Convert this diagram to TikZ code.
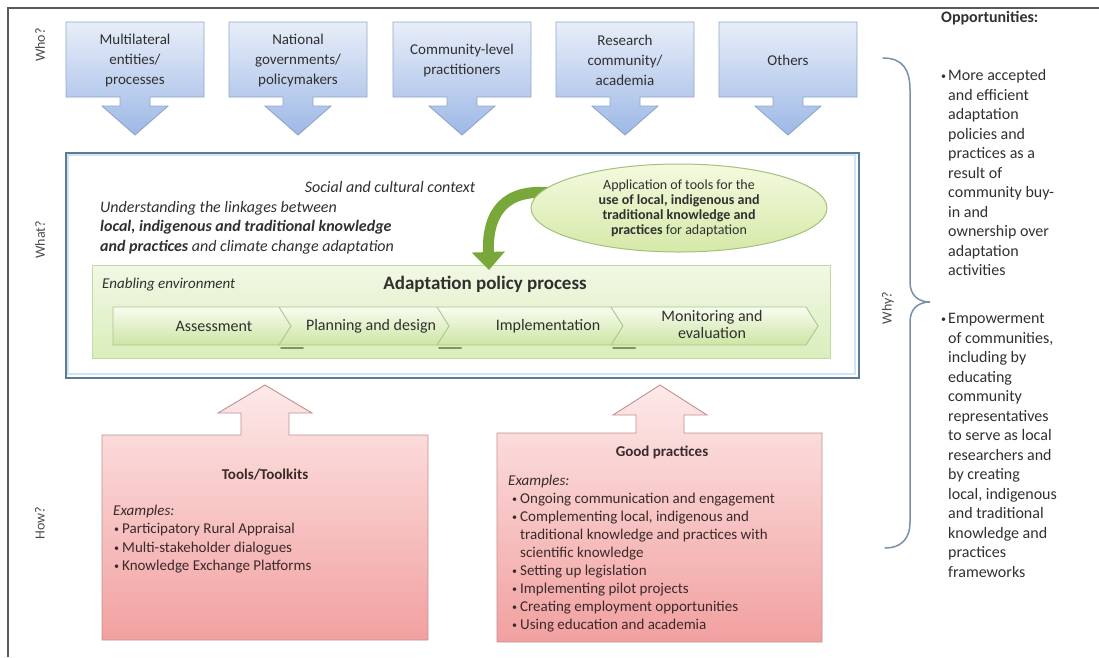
\documentclass[tikz,border=0pt]{standalone}
\usepackage{fontspec}
\setmainfont{Carlito}
\usetikzlibrary{arrows.meta,shapes.geometric}

\definecolor{framegrey}{HTML}{5A5A5A}
\definecolor{lbltxt}{HTML}{4A4A4A}
\definecolor{txt}{HTML}{303030}
\definecolor{whoedge}{HTML}{8FA6C8}
\definecolor{whotop}{HTML}{E8EEF9}
\definecolor{whobot}{HTML}{9DB8E6}
\definecolor{mainedge}{HTML}{5B7B96}
\definecolor{mainglow}{HTML}{D3E3F0}
\definecolor{paneltop}{HTML}{F1F8E4}
\definecolor{panelbot}{HTML}{DAEEBC}
\definecolor{paneledge}{HTML}{C3DBA3}
\definecolor{striptop}{HTML}{F8FCF0}
\definecolor{stripbot}{HTML}{CDE5A4}
\definecolor{stripedge}{HTML}{A9C78B}
\definecolor{stripshadow}{HTML}{7D9660}
\definecolor{elltop}{HTML}{F4FADF}
\definecolor{ellbot}{HTML}{D5E9A8}
\definecolor{elledge}{HTML}{A3C07C}
\definecolor{arrowgreen}{HTML}{78A83A}
\definecolor{redtop}{HTML}{FDE9E9}
\definecolor{redbot}{HTML}{F2A0A0}
\definecolor{rededge}{HTML}{C28F8F}
\definecolor{redtxt}{HTML}{3A2A2A}
\definecolor{bracecol}{HTML}{7890A8}

\newcommand\szf[2]{\fontsize{#1}{#2}\selectfont}

\begin{document}
\begin{tikzpicture}[x=1pt,y=-1pt,
  whobox/.style={draw=whoedge, line width=0.9pt, top color=whotop, bottom color=whobot},
  whotext/.style={text=txt, align=center, font=\szf{15}{20}, inner sep=0pt},
  sidelabel/.style={rotate=90, text=lbltxt, font=\szf{14}{16}, inner sep=0pt},
  redbox/.style={draw=rededge, line width=0.9pt, top color=redtop, bottom color=redbot},
  redline/.style={anchor=base west, text=redtxt, font=\szf{15}{18}, inner sep=0pt},
  redbullet/.style={anchor=base west, text=redtxt, font=\szf{10}{12}, inner sep=0pt},
  mainline/.style={anchor=base west, text=txt, font=\szf{16}{19}\itshape, inner sep=0pt},
  stepline/.style={text=txt, font=\szf{16}{17}, align=center, inner sep=0pt},
  oppline/.style={anchor=base west, text=txt, font=\szf{16}{19}, inner sep=0pt},
  oppbullet/.style={anchor=base west, text=txt, font=\szf{10}{12}, inner sep=0pt}
]
\useasboundingbox (0,0) rectangle (1099,657);

% outer frame
\draw[framegrey, line width=1.8pt] (8,657) -- (8,8) -- (1099,8);

% row labels
\node[sidelabel] (who) at (40,45) {Who?};
\node[sidelabel] (what) at (40,240) {What?};
\node[sidelabel] (how) at (40,523) {How?};
\node[sidelabel] (why) at (888,308) {Why?};

% actors with downward arrows
\foreach \cx/\t [count=\i] in {135/{Multilateral\\entities/\\processes},
    298/{National\\governments/\\policymakers},
    462/{Community-level\\practitioners},
    625/{Research\\community/\\academia},
    788/{Others}} {
  \draw[whobox] (\cx-69,22) -- (\cx+69,22) -- (\cx+69,97) -- (\cx+15,97)
     -- (\cx+15,106) -- (\cx+33,106) -- (\cx,135) -- (\cx-33,106)
     -- (\cx-15,106) -- (\cx-15,97) -- (\cx-69,97) -- cycle;
  \node[whotext] (who\i) at (\cx,60) {\t};
}

% main box
\node[draw=mainedge, line width=2.2pt, fill=white, minimum width=793pt,
      minimum height=225pt, anchor=north west, inner sep=0pt] (mainbox) at (65,152) {};
\draw[mainglow, line width=1.6pt] (67.8,154.8) rectangle (855.2,374.2);

\node[text=txt, font=\szf{16}{19}\itshape, inner sep=0pt] (context) at (390,187)
  {Social and cultural context};
\node[mainline] (und1) at (100,212.5) {Understanding the linkages between};
\node[mainline] (und2) at (100,231.5) {\bfseries local, indigenous and traditional knowledge};
\node[mainline] (und3) at (100,251) {\textbf{and practices} and climate change adaptation};

% enabling environment panel
\node[draw=paneledge, line width=1pt, top color=paneltop, bottom color=panelbot,
      minimum width=738pt, minimum height=93pt, anchor=north west, inner sep=0pt]
      (env) at (92,265) {};
\node[anchor=base west, text=txt, font=\szf{15}{18}\itshape, inner sep=0pt] (envlabel)
  at (102,288) {Enabling environment};
\node[text=txt, font=\szf{19}{22}\bfseries, inner sep=0pt] (apptitle) at (485,284)
  {Adaptation policy process};

% process chevrons
\draw[stripedge, line width=0.9pt, top color=striptop, bottom color=stripbot]
  (113,307) -- (806,307) -- (818,326) -- (806,345) -- (113,345) -- cycle;
\foreach \d in {279,437,611} {
  \draw[stripedge, line width=0.9pt] (\d,307) -- (\d+12,326) -- (\d,345);
  \draw[stripshadow, line width=2pt, line cap=round] (\d+2,347.5) -- (\d+24,347.5);
}
\node[stepline] (s1) at (214,326) {Assessment};
\node[stepline] (s2) at (371,326) {Planning and design};
\node[stepline] (s3) at (548,326) {Implementation};
\node[stepline] (s4) at (712,324) {Monitoring and\\evaluation};

% tools application
\coordinate (arrowend) at (489,270);
\draw[arrowgreen, line width=11pt, -{Triangle[width=32pt,length=18pt]}]
  (552,193) .. controls (505,188) and (487,212) .. (arrowend);
\node[ellipse, draw=elledge, line width=1pt, top color=elltop, bottom color=ellbot,
      minimum width=296pt, minimum height=88pt, inner sep=0pt, align=center,
      text=txt, font=\szf{14}{15}] (app) at (679,208)
  {Application of tools for the\\
   \textbf{use of local, indigenous and}\\
   \textbf{traditional knowledge and}\\
   \textbf{practices} for adaptation};

% tools / toolkits
\draw[redbox] (102,435) -- (241,435) -- (241,413) -- (218,413) -- (265,385)
  -- (312,413) -- (289,413) -- (289,435) -- (428,435) -- (428,640) -- (102,640) -- cycle;
\node[text=redtxt, font=\szf{15}{18}\bfseries, inner sep=0pt] (tools) at (265,475) {Tools/Toolkits};
\node[redline, font=\szf{15}{18}\itshape] (tex) at (113,515) {Examples:};
\foreach \t [count=\i] in {Participatory Rural Appraisal,
    Multi-stakeholder dialogues, Knowledge Exchange Platforms} {
  \node[redbullet] (tb\i) at (114,513.5+18.8*\i) {\textbullet};
  \node[redline] (tt\i) at (122,514.5+18.8*\i) {\t};
}

% good practices
\draw[redbox] (497,433) -- (636,433) -- (636,415) -- (613,415) -- (660,385)
  -- (707,415) -- (684,415) -- (684,433) -- (822,433) -- (822,642) -- (497,642) -- cycle;
\node[text=redtxt, font=\szf{15}{18}\bfseries, inner sep=0pt] (good) at (662,452) {Good practices};
\node[redline, font=\szf{15}{18}\itshape] (gex) at (508,485) {Examples:};
\foreach \t [count=\i] in {Ongoing communication and engagement,
    {Complementing local, indigenous and},
    traditional knowledge and practices with,
    scientific knowledge,
    Setting up legislation,
    Implementing pilot projects,
    Creating employment opportunities,
    Using education and academia} {
  \node[redline] (gt\i) at (520,485+18.1*\i) {\t};
}
\foreach \i in {1,2,5,6,7,8} {
  \node[redbullet] (gb\i) at (512,484+18.1*\i) {\textbullet};
}

% why brace
\draw[bracecol, line width=1.5pt, line cap=round]
  (883,58) .. controls (903,58) and (910,70) .. (910,90) -- (910,282)
  .. controls (910,296) and (919,302) .. (930,302)
  .. controls (919,302) and (910,308) .. (910,322) -- (910,522)
  .. controls (910,540) and (900,548) .. (885,548);

% opportunities
\node[anchor=base west, text=txt, font=\szf{16}{19}\bfseries, inner sep=0pt] (opp) at (941,22) {Opportunities:};
\node[oppbullet] (ob1) at (941,79) {\textbullet};
\foreach \t [count=\i from 0] in {More accepted, and efficient, adaptation,
    policies and, practices as a, result of, community buy-, in and,
    ownership over, adaptation, activities} {
  \node[oppline] (oa\i) at (948,80.5+19.5*\i) {\t};
}
\node[oppbullet] (ob2) at (941,322) {\textbullet};
\foreach \t [count=\i from 0] in {Empowerment, {of communities,}, including by,
    educating, community, representatives, to serve as local, researchers and,
    by creating, {local, indigenous}, and traditional, knowledge and,
    practices, frameworks} {
  \node[oppline] (oe\i) at (948,323.5+19.5*\i) {\t};
}
\end{tikzpicture}
\end{document}
